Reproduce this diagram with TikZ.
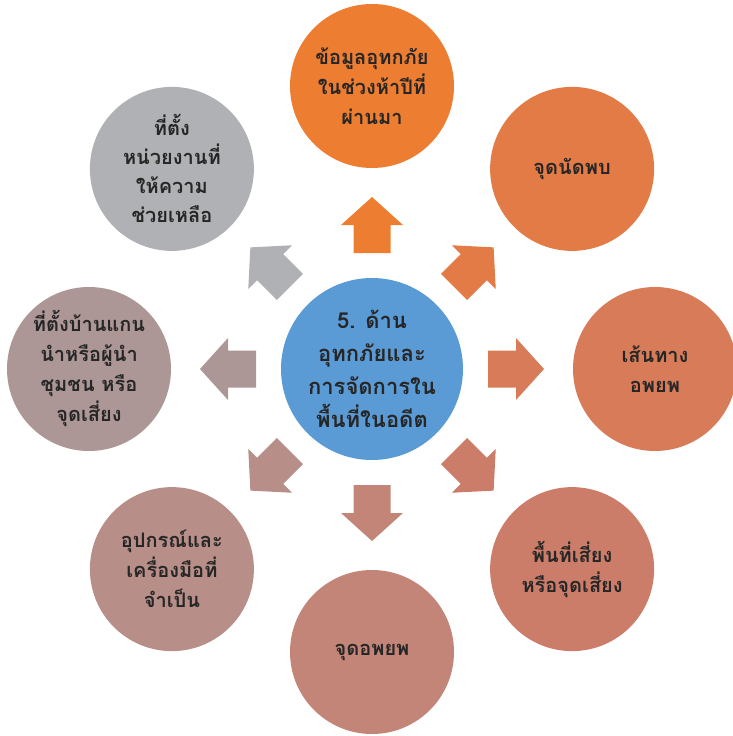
\documentclass[tikz,border=0pt]{standalone}
\usepackage{fontspec}
\newfontfamily\thai[Script=Thai]{Loma}
\definecolor{txt}{HTML}{262626}
\definecolor{cHub}{HTML}{5B9BD5}
\definecolor{cN}{HTML}{ED7D31}
\definecolor{cNE}{HTML}{E27B46}
\definecolor{cE}{HTML}{D87B58}
\definecolor{cSE}{HTML}{CC7D69}
\definecolor{cS}{HTML}{C28578}
\definecolor{cSW}{HTML}{B88E88}
\definecolor{cW}{HTML}{AD9796}
\definecolor{cNW}{HTML}{B0B1B4}
\begin{document}
\begin{tikzpicture}[x=1pt,y=1pt,
  bub/.style={circle, minimum size=164pt, inner sep=0pt, text=txt,
    font=\thai\bfseries\fontsize{20}{30}\selectfont, align=center},
  hubstyle/.style={circle, minimum size=182pt, inner sep=0pt, text=txt, fill=cHub,
    font=\thai\bfseries\fontsize{22}{33}\selectfont, align=center}]
\useasboundingbox (0,0) rectangle (733,-736);
\coordinate (c) at (372,-369);
\node[hubstyle] (hub) at (c) {5. ด้าน\\อุทกภัยและ\\การจัดการใน\\พื้นที่ในอดีต};
\node[bub, fill=cN]  (nN)  at ([shift={(90:283)}]c)  {ข้อมูลอุทกภัย\\ในช่วงห้าปีที่\\ผ่านมา};
\node[bub, fill=cNE] (nNE) at ([shift={(45:283)}]c)  {จุดนัดพบ};
\node[bub, fill=cE]  (nE)  at ([shift={(0:283)}]c)   {เส้นทาง\\อพยพ};
\node[bub, fill=cSE] (nSE) at ([shift={(-45:283)}]c) {พื้นที่เสี่ยง\\หรือจุดเสี่ยง};
\node[bub, fill=cS]  (nS)  at ([shift={(-90:283)}]c) {จุดอพยพ};
\node[bub, fill=cSW] (nSW) at ([shift={(-135:283)}]c) {อุปกรณ์และ\\เครื่องมือที่\\จำเป็น};
\node[bub, fill=cW, font=\thai\bfseries\fontsize{20}{30}\selectfont] (nW) at ([shift={(180:283)}]c) {ที่ตั้งบ้านแกน\\นำหรือผู้นำ\\ชุมชน หรือ\\จุดเสี่ยง};
\node[bub, fill=cNW, font=\thai\bfseries\fontsize{20}{29}\selectfont] (nNW) at ([shift={(135:283)}]c) {ที่ตั้ง\\หน่วยงานที่\\ให้ความ\\ช่วยเหลือ};
\foreach \ang/\col in {90/cN,45/cNE,0/cE,-45/cSE,-90/cS,-135/cSW,180/cW,135/cNW}{
  \begin{scope}[shift={(c)}, rotate=\ang]
    \fill[\col] (116,-18.5) -- (144,-18.5) -- (144,-31) -- (172,0) -- (144,31) -- (144,18.5) -- (116,18.5) -- cycle;
  \end{scope}
}
\end{tikzpicture}
\end{document}
